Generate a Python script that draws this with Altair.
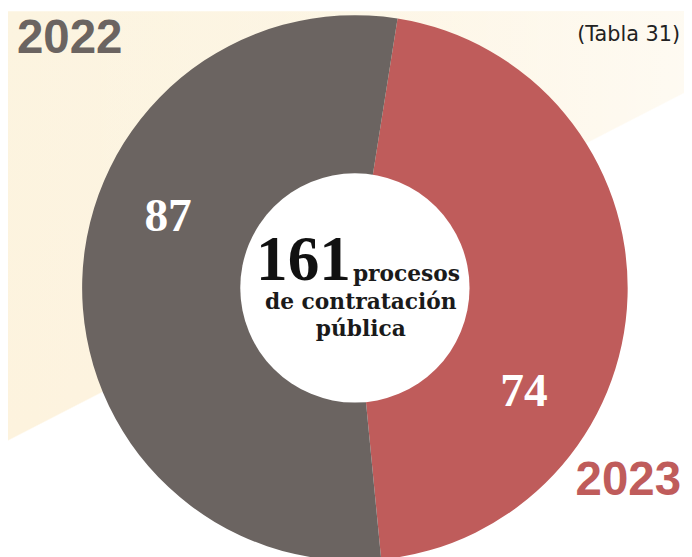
import math
import altair as alt
import pandas as pd

# ---- data ----
years = ["2023", "2022"]
values = [74, 87]
colors = ["#bf5c5b", "#6b6461"]
stack_order = [0, 1]

center_lines = ["procesos", "de contratación", "pública"]
source_note = "(Tabla 31)"

df = pd.DataFrame({"year": years, "value": values, "order": stack_order})
one = pd.DataFrame({"k": [0]})

W, H = 684, 549
CX, CY = 351, 280
T0 = math.radians(9)

bg = alt.Chart(one).mark_rect(
    fill={
        "gradient": "linear",
        "x1": 0, "y1": 0, "x2": 0.6404, "y2": 1,
        "stops": [
            {"offset": 0, "color": "#fcf4e0"},
            {"offset": 0.56, "color": "#fdf3de"},
            {"offset": 0.562, "color": "#ffffff"},
            {"offset": 1, "color": "#ffffff"},
        ],
    }
).encode(x=alt.value(0), x2=alt.value(W), y=alt.value(0), y2=alt.value(H))

# pale wash over the upper-right part of the cream band
wash = alt.Chart(one).mark_rect(
    fill={
        "gradient": "linear",
        "x1": 0, "y1": 0, "x2": 1, "y2": 0,
        "stops": [
            {"offset": 0, "color": "rgba(255,255,255,0)"},
            {"offset": 0.45, "color": "rgba(255,255,255,0.15)"},
            {"offset": 1, "color": "rgba(255,255,255,0.6)"},
        ],
    }
).encode(x=alt.value(0), x2=alt.value(W), y=alt.value(0), y2=alt.value(H))

donut = alt.Chart(df).mark_arc(innerRadius=115, outerRadius=276).encode(
    theta=alt.Theta("value:Q", stack=True,
                    scale=alt.Scale(range=[T0, T0 + 2 * math.pi])),
    color=alt.Color("year:N", scale=alt.Scale(domain=years, range=colors), legend=None),
    order=alt.Order("order:Q"),
    x=alt.value(CX), y=alt.value(CY),
)

hole = alt.Chart(one).mark_arc(radius=116, theta=0, theta2=2 * math.pi, color="white").encode(
    x=alt.value(CX), y=alt.value(CY)
)

lab_font = dict(font="Liberation Serif", fontSize=48, fontWeight="bold", color="white",
                align="center", baseline="middle")
lab_2022 = alt.Chart(df).transform_filter(alt.datum.year == "2022").mark_text(**lab_font).encode(
    text="value:Q", x=alt.value(162), y=alt.value(208))
lab_2023 = alt.Chart(df).transform_filter(alt.datum.year == "2023").mark_text(**lab_font).encode(
    text="value:Q", x=alt.value(522), y=alt.value(385))

total = alt.Chart(df).transform_aggregate(total="sum(value)").mark_text(
    font="Liberation Serif", fontSize=64, fontWeight="bold", color="#111111",
    align="left", baseline="alphabetic"
).encode(text="total:Q", x=alt.value(251), y=alt.value(272))

serif = dict(font="DejaVu Serif", fontSize=22, fontWeight="bold", color="#1a1a1a", baseline="alphabetic")
t1 = alt.Chart(one).mark_text(text=center_lines[0], align="left", **serif).encode(
    x=alt.value(349), y=alt.value(273))
t2 = alt.Chart(one).mark_text(text=center_lines[1], align="center", **serif).encode(
    x=alt.value(357), y=alt.value(301))
t3 = alt.Chart(one).mark_text(text=center_lines[2], align="center", **serif).encode(
    x=alt.value(357), y=alt.value(329))

yr_font = dict(font="Liberation Sans", fontSize=48, fontWeight="bold", baseline="alphabetic")
y2022 = alt.Chart(df).transform_filter(alt.datum.year == "2022").mark_text(
    align="left", color=colors[1], **yr_font).encode(text="year:N", x=alt.value(9), y=alt.value(42))
y2023 = alt.Chart(df).transform_filter(alt.datum.year == "2023").mark_text(
    align="right", color=colors[0], **yr_font).encode(text="year:N", x=alt.value(681), y=alt.value(490))

note = alt.Chart(one).mark_text(
    text=source_note, font="DejaVu Sans", fontSize=21, color="#222222",
    align="right", baseline="alphabetic"
).encode(x=alt.value(680), y=alt.value(30))

chart = alt.layer(
    bg, wash, donut, hole, lab_2022, lab_2023, total, t1, t2, t3, y2022, y2023, note
).properties(
    width=W, height=H, padding=0,
    autosize=alt.AutoSizeParams(type="none"),
    background="white",
).configure_view(stroke=None)

chart.save("out.html", embed_options={"renderer": "svg", "actions": False})
